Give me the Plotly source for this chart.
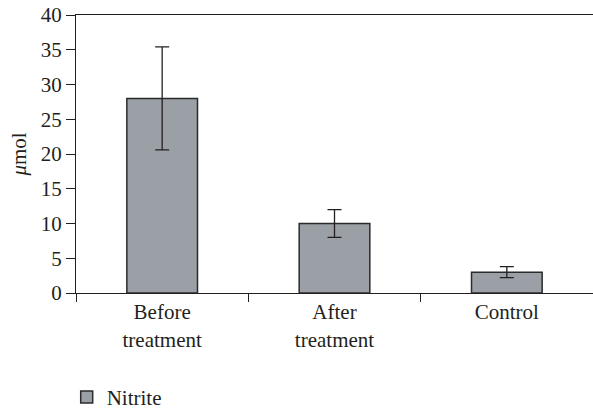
import plotly.graph_objects as go

categories = ["Before<br>treatment", "After<br>treatment", "Control"]
values = [28, 10, 3]
errors = [7.4, 2.0, 0.8]
series_name = "Nitrite"
y_ticks = [0, 5, 10, 15, 20, 25, 30, 35, 40]

FONT = "Liberation Serif"
INK = "#231f20"
FS = 21

fig = go.Figure()
fig.add_trace(go.Bar(
    x=categories, y=values, name=series_name,
    width=0.41,
    marker=dict(color="#9aa0a6", line=dict(color="#2b2b2b", width=1.5)),
    error_y=dict(type="data", array=errors, visible=True,
                 color=INK, thickness=1.3, width=7),
    showlegend=True,
))

fig.update_layout(
    width=593, height=413,
    margin=dict(l=76, r=0, t=15, b=120, autoexpand=False),
    paper_bgcolor="white", plot_bgcolor="white",
    font=dict(family=FONT, size=FS, color=INK),
    showlegend=True,
    legend=dict(x=-0.018, y=-0.375, xanchor="left", yanchor="middle",
                orientation="h", font=dict(size=FS, family=FONT, color=INK),
                bgcolor="rgba(0,0,0,0)"),
    xaxis=dict(
        automargin=False,
        showline=True, linecolor=INK, linewidth=1.3, mirror=True,
        ticks="outside", tickson="boundaries", ticklen=8, tickcolor=INK,
        tickwidth=1.3, showgrid=False, range=[-0.5, 2.5],
        tickfont=dict(size=FS, family=FONT, color=INK),
    ),
    yaxis=dict(
        automargin=False, ticklabeloverflow="allow",
        range=[0, 40], tickvals=y_ticks, showline=True, linecolor=INK,
        linewidth=1.3, ticks="outside", ticklen=9, tickcolor=INK,
        tickwidth=1.3, showgrid=False, zeroline=False,
        tickfont=dict(size=FS, family=FONT, color=INK),
        title=dict(text="<i>μ</i>mol", font=dict(size=FS, family=FONT, color=INK),
                   standoff=8),
    ),
)

fig.write_html("out.html", config={"displayModeBar": False},
               post_script="document.body.style.margin='0';")
